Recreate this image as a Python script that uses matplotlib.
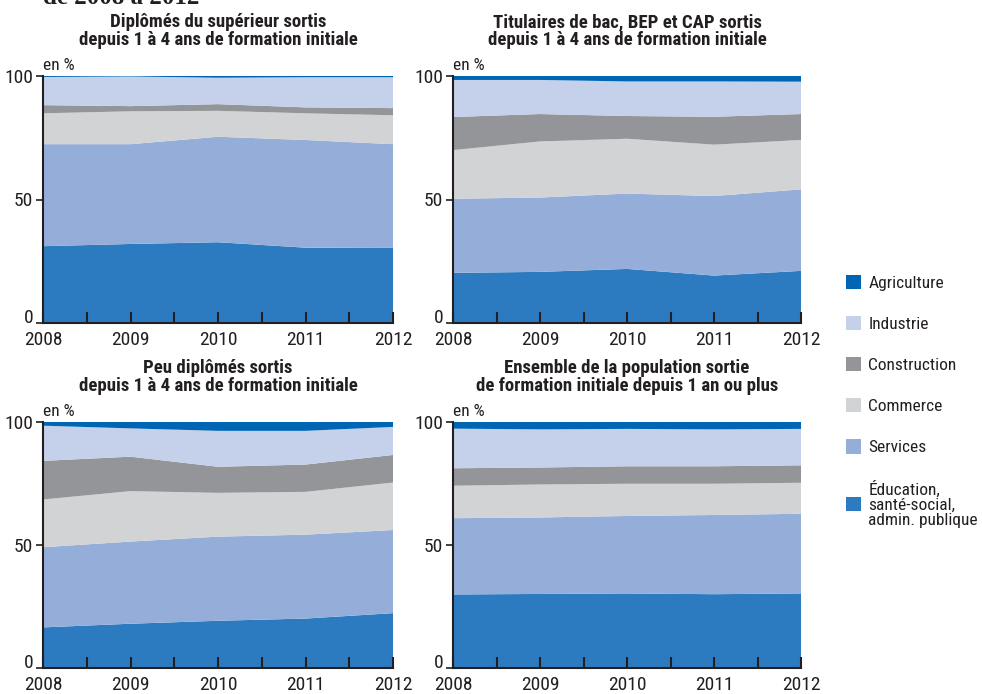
import matplotlib
matplotlib.use('Agg')
import matplotlib.pyplot as plt
import matplotlib.patches as patches
import matplotlib.transforms as mtransforms

plt.rcParams['font.family'] = ['Roboto Condensed', 'Liberation Sans Narrow',
                               'Liberation Sans', 'DejaVu Sans']

years = [2008, 2009, 2010, 2011, 2012]
sectors = ['Éducation,\nsanté-social,\nadmin. publique', 'Services', 'Commerce',
           'Construction', 'Industrie', 'Agriculture']
colors = ['#2c7bc0', '#95aed9', '#d1d3d4', '#939598', '#c5d1ea', '#0066b3']

titles = ['Diplômés du supérieur sortis\ndepuis 1 à 4 ans de formation initiale',
          'Titulaires de bac, BEP et CAP sortis\ndepuis 1 à 4 ans de formation initiale',
          'Peu diplômés sortis\ndepuis 1 à 4 ans de formation initiale',
          'Ensemble de la population sortie\nde formation initiale depuis 1 an ou plus']

# shares (%) per sector, bottom to top
superieur = [
    [31.1, 32.0, 32.7, 30.5, 30.4],
    [41.3, 40.4, 42.7, 43.6, 42.0],
    [12.5, 13.3, 10.5, 10.8, 11.7],
    [3.3, 2.1, 2.7, 2.4, 2.9],
    [11.4, 12.0, 10.7, 12.2, 12.5],
    [0.4, 0.2, 0.7, 0.5, 0.5],
]
bac = [
    [20.3, 20.7, 21.9, 19.2, 21.1],
    [30.0, 30.1, 30.5, 32.2, 33.0],
    [19.7, 22.7, 22.2, 20.8, 20.0],
    [13.4, 11.1, 9.2, 11.3, 10.5],
    [15.0, 13.8, 14.0, 14.3, 13.1],
    [1.6, 1.6, 2.2, 2.2, 2.3],
]
peu_diplomes = [
    [16.5, 18.0, 19.2, 20.1, 22.3],
    [32.6, 33.4, 34.2, 34.1, 33.8],
    [19.4, 20.5, 17.8, 17.4, 19.3],
    [15.7, 14.0, 10.6, 11.1, 11.2],
    [14.3, 11.5, 14.6, 13.7, 11.4],
    [1.5, 2.6, 3.6, 3.6, 2.0],
]
ensemble = [
    [29.9, 30.1, 30.3, 30.0, 30.3],
    [31.0, 31.1, 31.5, 32.2, 32.4],
    [13.2, 13.4, 13.1, 12.7, 12.6],
    [7.1, 6.9, 7.1, 7.1, 7.1],
    [16.1, 15.5, 15.2, 15.0, 14.8],
    [2.7, 3.0, 2.8, 3.0, 2.8],
]
panels = [superieur, bac, peu_diplomes, ensemble]

fig = plt.figure(figsize=(9.82, 6.94), dpi=100)

W, H = 982, 694
boxes = [(43, 76, 393, 323), (453, 76, 801, 323),
         (43, 422, 393, 668), (453, 422, 801, 668)]

for i, (data, title) in enumerate(zip(panels, titles)):
    x0, y0, x1, y1 = boxes[i]
    ax = fig.add_axes([x0 / W, 1 - y1 / H, (x1 - x0) / W, (y1 - y0) / H])
    ax.stackplot(years, *data, colors=colors, linewidth=0)
    ax.set_xlim(2008, 2012)
    ax.set_ylim(0, 100)
    ax.set_xticks(years)
    ax.set_xticks([2008.5, 2009.5, 2010.5, 2011.5], minor=True)
    ax.set_yticks([0, 50, 100])
    ax.tick_params(axis='x', which='both', direction='in', length=8, width=1.5,
                   labelsize=14, pad=6, color='#231f20', labelcolor='#231f20')
    ax.tick_params(axis='y', direction='out', length=5, width=1.2,
                   labelsize=14, pad=2, color='#231f20', labelcolor='#231f20')
    # lift the "0" label a little, like the original
    lab0 = ax.get_yticklabels()[0]
    lab0.set_transform(lab0.get_transform() +
                       mtransforms.ScaledTranslation(0, 5 / 72, fig.dpi_scale_trans))
    for s in ['top', 'right']:
        ax.spines[s].set_visible(False)
    for s in ['left', 'bottom']:
        ax.spines[s].set_linewidth(1.5)
        ax.spines[s].set_color('#231f20')
    ax.set_axisbelow(False)
    ax.set_title(title, fontsize=13.5, fontweight='bold', color='#231f20',
                 linespacing=1.0, pad=22)
    ax.text(0, 1.012, 'en %', transform=ax.transAxes, fontsize=12.5,
            ha='left', va='bottom', color='#231f20')

fig.text(43 / W, 1 - 4 / H, 'de 2008 à 2012', fontsize=18, fontweight='bold',
         family='Liberation Serif', va='baseline', ha='left', color='#231f20')

handles = [patches.Patch(facecolor=c, edgecolor='none') for c in colors]
leg = fig.legend(handles[::-1], sectors[::-1], loc='upper left',
                 bbox_to_anchor=(846 / W, 1 - 275 / H), frameon=False,
                 fontsize=12.5, handlelength=0.88, handleheight=0.88,
                 handletextpad=0.4, labelspacing=1.44, borderpad=0,
                 borderaxespad=0)
for t in leg.get_texts():
    t.set_color('#231f20')
    t.set_linespacing(1.0)

fig.savefig('out.png', dpi=100)
